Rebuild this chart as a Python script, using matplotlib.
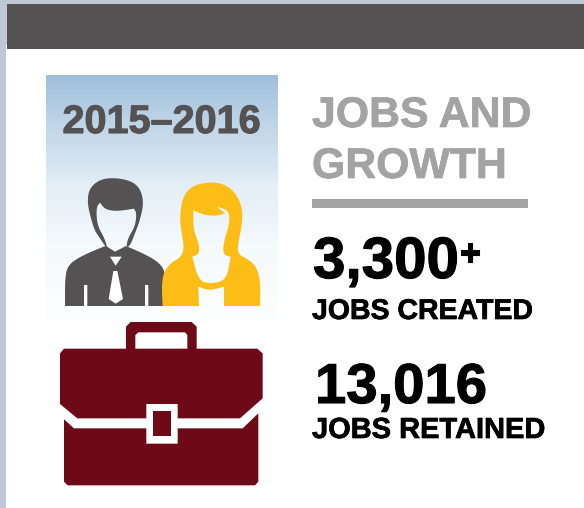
import numpy as np
import matplotlib
matplotlib.use("Agg")
import matplotlib.pyplot as plt
import matplotlib.patheffects as pe
from matplotlib.path import Path
from matplotlib.patches import PathPatch, Rectangle
from matplotlib.colors import LinearSegmentedColormap

period = "2015–2016"
heading = ["JOBS AND", "GROWTH"]
stat_values = ["3,300", "13,016"]
stat_labels = ["JOBS CREATED", "JOBS RETAINED"]

SANS = "Liberation Sans"
DARK, GREY, YEL, RED = "#545253", "#a3a3a3", "#fdbd17", "#6e0a18"

fig = plt.figure(figsize=(5.84, 5.08), dpi=100, facecolor="#bfc8d3")
ax = fig.add_axes([0, 0, 1, 1])
ax.set_xlim(0, 584); ax.set_ylim(508, 0); ax.axis("off")

ax.add_patch(Rectangle((6, 45), 578, 463, fc="white", ec="none"))
ax.add_patch(Rectangle((7, 4), 577, 45, fc=DARK, ec="none"))

cmap = LinearSegmentedColormap.from_list("g", [(0, "#9fbedb"), (.2, "#c0d5e8"), (.45, "#e3eef6"),
                                               (.7, "#f5fafd"), (1, "#fdfeff")])
ax.imshow(np.linspace(0, 1, 256)[:, None], cmap=cmap, extent=(46, 278, 320, 75), aspect="auto", zorder=1)
ax.set_xlim(0, 584); ax.set_ylim(508, 0)


def area(p):
    x, y = np.array(p).T
    return np.dot(x, np.roll(y, -1)) - np.dot(y, np.roll(x, -1))


def smooth(ring, sharp=(), n=3):
    ring = [tuple(map(float, p)) for p in ring]
    sharp = {tuple(map(float, p)) for p in sharp}
    for _ in range(n):
        out = []
        for i, v in enumerate(ring):
            if v in sharp:
                out.append(v)
                continue
            a, b = ring[i - 1], ring[(i + 1) % len(ring)]
            out.append((.75 * v[0] + .25 * a[0], .75 * v[1] + .25 * a[1]))
            out.append((.75 * v[0] + .25 * b[0], .75 * v[1] + .25 * b[1]))
        ring = out
    return ring


def shape(outer, holes=(), color=DARK, x0=0, y0=0, z=3):
    verts, codes = [], []
    for i, ring in enumerate([outer, *holes]):
        r = list(ring)
        if (area(r) > 0) != (i == 0):
            r = r[::-1]
        pts = [(px / 3 + x0, py / 3 + y0) for px, py in r]
        verts += pts + [pts[0]]
        codes += [Path.MOVETO] + [Path.LINETO] * (len(pts) - 1) + [Path.CLOSEPOLY]
    ax.add_patch(PathPatch(Path(verts, codes), fc=color, ec="none", zorder=z))


# man
man_body = [(195, 918), (195, 830), (205, 795), (240, 770), (305, 742), (318, 738), (345, 755), (378, 738),
            (440, 765), (480, 790), (497, 820), (500, 918), (445, 918), (445, 855), (435, 855), (435, 918),
            (262, 918), (262, 855), (252, 855), (252, 918)]
shape(smooth(man_body, sharp=[p for p in man_body if p[1] >= 855 or p in [(318, 738), (345, 755), (378, 738)]]))
man_hair = [(345, 533), (300, 538), (268, 565), (262, 605), (270, 645), (283, 690), (300, 715), (318, 742),
            (322, 742), (312, 712), (294, 680), (289, 645), (291, 618), (300, 608), (315, 628), (350, 634),
            (402, 626), (410, 640), (405, 680), (385, 712), (378, 742), (390, 738), (405, 700), (420, 660),
            (431, 610), (422, 568), (395, 543)]
shape(smooth(man_hair, sharp=[(300, 608), (402, 626)]))
shape([(330, 770), (365, 770), (347, 797)], color="white")
shape([(340, 813), (352, 813), (369, 897), (347, 911), (326, 897)], color="white")

# woman
wom = [(632, 546), (578, 556), (548, 590), (539, 650), (545, 700), (552, 740), (545, 770), (510, 790),
       (490, 820), (485, 860), (488, 918), (597, 918), (595, 860), (630, 872), (672, 860), (672, 918),
       (780, 918), (782, 850), (770, 800), (740, 775), (717, 765), (712, 740), (727, 670), (727, 620),
       (702, 572), (668, 551)]
face = [(580, 630), (610, 645), (650, 648), (675, 640), (650, 620), (685, 630), (690, 665), (670, 730),
        (670, 765), (692, 770), (680, 840), (630, 852), (595, 840), (577, 770), (598, 762), (597, 730),
        (580, 690)]
shape(smooth(wom, sharp=[(488, 918), (597, 918), (595, 860), (672, 860), (672, 918), (780, 918)]),
      holes=[smooth(face, sharp=[(580, 630), (650, 620), (675, 640), (692, 770), (577, 770)])], color=YEL, z=4)

# briefcase
shape([(180, 160), (192, 146), (378, 146), (378, 80), (392, 66), (575, 66), (590, 80), (590, 146), (772, 146),
       (788, 160), (788, 295), (720, 355), (533, 355), (533, 312), (439, 312), (439, 355), (232, 355), (180, 312)],
      holes=[[(406, 146), (406, 105), (415, 97), (555, 97), (562, 105), (562, 146)]], color=RED, y0=300)
shape([(192, 358), (222, 385), (439, 385), (439, 431), (533, 431), (533, 385), (728, 385), (775, 340),
       (775, 545), (765, 556), (203, 556), (192, 545)], color=RED, y0=300)
shape([(460, 333), (512, 333), (512, 409), (460, 409)], color=RED, y0=300)


def label(x, y, s, fs, color, lw=0.5, **kw):
    t = ax.text(x, y, s, family=SANS, weight="bold", fontsize=fs, color=color, va="baseline", zorder=5, **kw)
    t.set_path_effects([pe.withStroke(linewidth=lw, foreground=color)])


label(162, 133, period, 28.5, DARK, lw=0.8, ha="center")
for s, y in zip(heading, [127, 178]):
    label(312, y, s, 30.8, GREY)
ax.add_patch(Rectangle((312, 199), 216, 9, fc=GREY, ec="none"))

for s, x, y, fs in zip(stat_values, [313, 315], [278, 403], [42, 40.5]):
    label(x, y, s, fs, "black", lw=0.8)
label(459, 265, "+", 27, "black", lw=0.8)
label(312, 319, stat_labels[0], 20.5, "black")
label(312, 438, stat_labels[1], 20.9, "black")

fig.savefig("out.png", dpi=100, facecolor=fig.get_facecolor())
